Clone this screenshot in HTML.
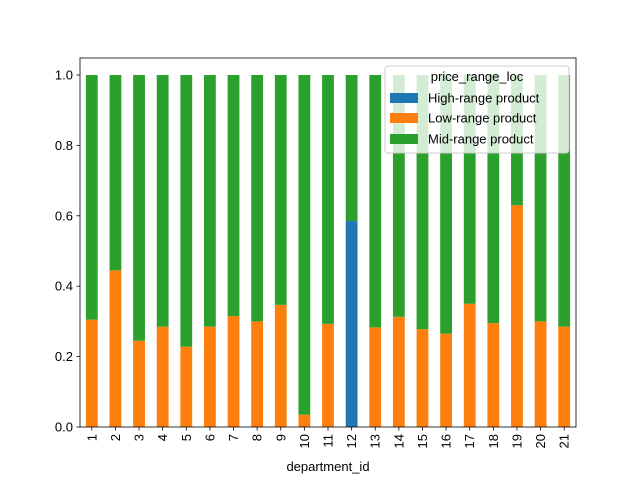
<!DOCTYPE html>
<html><head><meta charset="utf-8"><style>
html,body{margin:0;padding:0;background:#fff}
svg text{font-family:"Liberation Sans","DejaVu Sans",sans-serif;font-size:13px;fill:#000}
</style></head><body>
<svg id="chart" width="640" height="480" xmlns="http://www.w3.org/2000/svg"></svg>
<script>
const categories = ["1","2","3","4","5","6","7","8","9","10","11","12","13","14","15","16","17","18","19","20","21"];
const highRange = [0,0,0,0,0,0,0,0,0,0,0,0.585,0,0,0,0,0,0,0,0,0];
const lowRange = [0.305,0.445,0.245,0.285,0.228,0.285,0.315,0.30,0.347,0.035,0.293,0,0.283,0.313,0.278,0.265,0.35,0.295,0.63,0.30,0.285];
const midRange = categories.map((c,i)=>1-highRange[i]-lowRange[i]);
const yTicks = [0,0.2,0.4,0.6,0.8,1.0];
const yTickLabels = ["0.0","0.2","0.4","0.6","0.8","1.0"];

const svg=document.getElementById('chart');
const NS="http://www.w3.org/2000/svg";
const L=80,R=576,T=58,B=427;
const yMax=1.05/1.0;
function y(v){return B-v*(B-75);}
const step=(R-L)/categories.length;
function xc(i){return L+step*(i+0.5);}
const bw=step*0.5;
function mk(tag,attrs,parent){const e=document.createElementNS(NS,tag);for(const k in attrs)e.setAttribute(k,attrs[k]);(parent||svg).appendChild(e);return e;}

const colors={high:"#1f77b4",low:"#ff7f0e",mid:"#2ca02c"};
categories.forEach((c,i)=>{
  let base=0;
  [["high",highRange],["low",lowRange],["mid",midRange]].forEach(([k,arr])=>{
    const v=arr[i];
    const r=mk('rect',{x:xc(i)-bw/2,y:y(base+v),width:bw,height:Math.max(0,y(base)-y(base+v)),fill:colors[k]});
    
    
    base+=v;
  });
  const t=mk('line',{x1:xc(i),x2:xc(i),y1:B,y2:B+3.5,stroke:"#000","stroke-width":0.8});
  
  
  const lb=mk('text',{x:0,y:0,transform:`translate(${xc(i)+4.5},${B+7}) rotate(-90)`,"text-anchor":"end"});
  lb.textContent=c;
  
  
});
yTicks.forEach((v,i)=>{
  const t=mk('line',{x1:L-3.5,x2:L,y1:y(v),y2:y(v),stroke:"#000","stroke-width":0.8});
  
  
  const lb=mk('text',{x:L-7,y:y(v)+4.5,"text-anchor":"end"});
  lb.textContent=yTickLabels[i];
  
  
});
const frame=mk('rect',{x:L,y:T,width:R-L,height:B-T,fill:"none",stroke:"#000","stroke-width":0.8});


const xl=mk('text',{x:(L+R)/2,y:471,"text-anchor":"middle"});
xl.textContent="department_id";



const lg=mk('g',{});


mk('rect',{x:385,y:66,width:184,height:87,rx:3,fill:"#fff","fill-opacity":0.8,stroke:"#ccc","stroke-width":1},lg);
const tt=mk('text',{x:477,y:81,"text-anchor":"middle"},lg);
tt.textContent="price_range_loc";
[["High-range product",colors.high,98],["Low-range product",colors.low,118],["Mid-range product",colors.mid,139]].forEach(([n,col,yy])=>{
  const r=mk('rect',{x:390,y:yy-5,width:28,height:10,fill:col},lg);
  
  
  const t=mk('text',{x:428,y:yy+4.5},lg);
  t.textContent=n;
  
  
});
</script>
</body></html>
